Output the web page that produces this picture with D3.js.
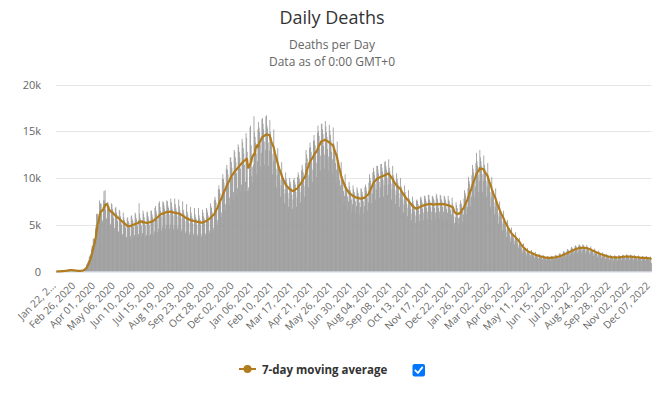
<!DOCTYPE html>
<html>
<head>
<meta charset="utf-8">
<script src="https://cdn.jsdelivr.net/npm/d3@7"></script>
<style>
  body { margin: 0; background: #fff; }
  svg { display: block; font-family: "Open Sans", "Lucida Grande", "DejaVu Sans", sans-serif; }
</style>
</head>
<body>
<div id="chart"></div>
<script>
// Chart texts
var chartTitle = "Daily Deaths";
var subtitleLines = ["Deaths per Day", "Data as of 0:00 GMT+0"];
var legendLabel = "7-day moving average";

// X axis tick labels, one every 35 days starting Jan 22, 2020
var tickStep = 35;
var tickLabels = [
  "Jan 22, 2\u2026", "Feb 26, 2020", "Apr 01, 2020", "May 06, 2020", "Jun 10, 2020",
  "Jul 15, 2020", "Aug 19, 2020", "Sep 23, 2020", "Oct 28, 2020", "Dec 02, 2020",
  "Jan 06, 2021", "Feb 10, 2021", "Mar 17, 2021", "Apr 21, 2021", "May 26, 2021",
  "Jun 30, 2021", "Aug 04, 2021", "Sep 08, 2021", "Oct 13, 2021", "Nov 17, 2021",
  "Dec 22, 2021", "Jan 26, 2022", "Mar 02, 2022", "Apr 06, 2022", "May 11, 2022",
  "Jun 15, 2022", "Jul 20, 2022", "Aug 24, 2022", "Sep 28, 2022", "Nov 02, 2022",
  "Dec 07, 2022"
];

// Y axis ticks
var yTicks = [0, 5000, 10000, 15000, 20000];

// Daily deaths, Jan 22, 2020 onward (one row per week, Wed..Tue)
var deaths = [
  17,8,16,15,24,26,26,
  38,43,46,45,57,64,66,
  72,70,85,87,100,108,97,
  120,254,143,143,142,105,98,
  139,112,119,98,150,71,52,
  64,38,57,64,57,70,81,
  85,98,105,98,120,173,208,
  273,338,440,410,726,785,928,
  1040,1165,1580,1690,1740,1890,2430,
  2720,2780,3510,3510,3260,3510,4620,
  4950,6150,6200,6100,4900,4850,7600,
  7000,7300,7250,6200,5300,5500,7600,
  8600,7600,8700,6600,5700,5600,7400,
  7400,7000,6700,6300,4900,5100,7300,
  7200,6700,6400,5700,4500,4700,6800,
  6900,6300,6000,5400,4200,4300,6600,
  6400,5900,5600,5000,3800,4000,6300,
  5800,5500,5300,4700,3500,3700,5700,
  5800,5400,5200,4700,3500,3800,5900,
  6000,5600,5400,4800,3600,3900,6300,
  6100,5700,5500,4900,3700,4000,7300,
  6200,5700,5500,4900,3800,4100,6500,
  6200,5800,5400,4900,3700,3900,6400,
  6300,5900,5600,5000,3800,4000,6500,
  6500,6100,5800,5300,3900,4300,6800,
  7000,6500,6200,5600,4200,4600,7300,
  7500,6900,6500,5900,4400,4800,7500,
  7400,7100,6700,6100,4600,5000,7600,
  7500,7000,6800,6100,4600,5000,7800,
  7400,6900,6600,6000,4500,4900,7800,
  7200,6800,6500,5900,4500,4800,7700,
  7000,6600,6300,5700,4300,4600,7500,
  6600,6300,6000,5400,4100,4300,7200,
  6400,6100,5800,5200,3900,4200,6900,
  6300,5900,5700,5100,3900,4100,6800,
  6100,5800,5600,5000,3800,4000,6800,
  6000,5700,5500,4900,3700,4000,6600,
  6300,5900,5700,5100,3900,4100,6800,
  6600,6300,6000,5400,4100,4400,7300,
  7000,6800,6400,5800,4400,4700,7600,
  8000,7700,7400,6600,5000,5500,8800,
  9200,8800,8400,7600,5800,6300,9900,
  10400,9900,9500,8500,6500,7200,11000,
  11400,10900,10400,9400,7100,7900,12200,
  12200,11700,11100,10100,7600,8500,13000,
  12800,12200,11700,10500,8000,8900,13600,
  13300,12800,12200,11000,8400,9300,14200,
  13800,13200,12600,11400,8600,9600,14800,
  14300,12800,8600,9000,8600,11000,15400,
  15600,13500,10200,11200,9500,11400,16600,
  14900,14400,13800,12600,10400,11800,15200,
  16000,15400,14900,13600,11200,12700,16300,
  16400,15800,15200,13900,11400,13000,16600,
  16700,15600,15300,13800,11300,12900,16200,
  14900,14400,13800,12600,10400,11800,15200,
  13000,12500,12100,11000,9000,10300,13200,
  11500,11100,10700,9800,8000,9200,11700,
  10400,10000,9700,8800,7300,8300,10600,
  9900,9500,9200,8400,6900,7800,10000,
  9600,9300,8900,8200,6700,7700,9800,
  10000,9600,9300,8500,6900,7900,10100,
  10600,10300,9900,9000,7400,8500,10800,
  11400,11000,10600,9700,8000,9100,11600,
  13000,12500,12100,11000,9000,10300,13200,
  13800,13300,12800,11700,9600,10900,14000,
  14600,14000,13500,12400,10100,11600,14800,
  15600,15000,14500,13200,10800,12400,15800,
  15800,15200,14700,13400,11000,12500,16100,
  15500,14900,14400,13100,10800,12300,15700,
  15100,14600,14000,12800,10500,12000,15400,
  13700,13200,12700,11600,9500,10900,13900,
  11500,11100,10700,9800,8000,9200,11700,
  10200,9800,9500,8600,7100,8100,10400,
  9400,9100,8700,8000,6600,7500,9600,
  9100,8700,8400,7700,6300,7200,9200,
  8800,8500,8200,7500,6200,7000,9000,
  8700,8400,8100,7400,6100,6900,8900,
  8800,8500,8200,7500,6200,7000,9000,
  9300,9000,8600,7900,6500,7400,9500,
  10400,10000,9700,8800,7300,8300,10600,
  11100,10700,10300,9400,7700,8800,11300,
  11300,10900,10500,9600,7900,9000,11500,
  11500,11100,10700,9800,8000,9200,11700,
  11800,11300,10900,10000,8200,9300,12000,
  11100,10700,10300,9400,7700,8800,11300,
  10300,9900,9600,8700,7200,8200,10500,
  9900,9500,9200,8400,6900,7800,10000,
  9100,8700,8400,7700,6300,7200,9200,
  8500,8200,7900,7200,5900,6800,8700,
  7800,7600,7300,6700,5500,6200,8000,
  7500,7200,7000,6400,5200,6000,7600,
  7700,7500,7200,6600,5400,6100,7900,
  8000,7700,7400,6700,5500,6300,8100,
  8100,7800,7500,6800,5600,6400,8200,
  8200,7700,7500,6900,5500,6400,8100,
  8000,7800,7600,6800,5600,6300,8300,
  8100,7800,7400,6800,5700,6400,8200,
  8100,7700,7500,6900,5600,6400,8100,
  8000,7700,7400,6700,5500,6300,8100,
  7700,7500,7200,6600,5400,6100,7900,
  7300,7000,6000,5200,4800,5800,7400,
  7100,6800,5800,5700,5000,5800,7200,
  7600,7300,7100,6500,5300,6100,7800,
  8700,8400,8100,7400,6100,6900,8900,
  10100,9700,9400,8600,7000,8000,10300,
  11400,11000,10600,9700,8000,9100,11600,
  12700,11800,11300,10400,8500,9700,13000,
  12200,11800,11300,10400,8500,9700,12400,
  11400,11000,10600,9700,8000,9100,11600,
  10000,9600,9300,8500,6900,7900,10100,
  8700,8400,8100,7400,6100,6900,8900,
  7400,7100,6900,6300,5100,5900,7500,
  6400,6200,5900,5400,4400,5100,6500,
  5400,5200,5000,4600,3700,4300,5500,
  4600,4400,4300,3900,3200,3600,4700,
  4100,4000,3800,3500,2900,3300,4200,
  3600,3500,3300,3000,2500,2800,3600,
  2900,2800,2700,2500,2000,2300,3000,
  2500,2400,2300,2100,1700,2000,2500,
  2200,2200,2100,1900,1600,1800,2300,
  2000,1900,1900,1700,1400,1600,2100,
  1850,1780,1720,1570,1290,1470,1880,
  1740,1670,1610,1470,1210,1380,1770,
  1620,1570,1510,1380,1130,1290,1650,
  1640,1560,1500,1370,1140,1300,1660,
  1680,1620,1560,1430,1170,1340,1710,
  1790,1730,1660,1520,1250,1420,1820,
  1960,1890,1820,1660,1370,1560,2000,
  2180,2110,2030,1850,1520,1740,2220,
  2410,2320,2240,2040,1680,1910,2450,
  2630,2540,2440,2230,1830,2090,2680,
  2800,2700,2600,2380,1950,2230,2850,
  2860,2750,2650,2420,1990,2270,2910,
  2800,2700,2600,2380,1950,2230,2850,
  2630,2540,2440,2230,1830,2090,2680,
  2410,2320,2240,2040,1680,1910,2450,
  2180,2110,2030,1850,1520,1740,2220,
  2020,1940,1870,1710,1400,1600,2050,
  1850,1780,1720,1570,1290,1470,1880,
  1740,1670,1610,1470,1210,1380,1770,
  1680,1620,1560,1430,1170,1340,1710,
  1690,1610,1570,1420,1160,1330,1720,
  1740,1670,1610,1470,1210,1380,1770,
  1790,1730,1660,1520,1250,1420,1820,
  1800,1720,1670,1510,1240,1430,1810,
  1740,1670,1610,1470,1210,1380,1770,
  1680,1620,1560,1430,1170,1340,1710,
  1620,1570,1510,1380,1130,1290,1650,
  1630,1560,1500,1370,1120,1300,1660,
  1570,1510,1460,1330,1090,1250,1600,
  1200,900
];

(function() {
  var width = 664,
      height = 394;

  var plot = { left: 56, right: 651.5, top: 84.5, bottom: 271.5 };

  var barColor = "#9c9c9c",
      lineColor = "#b07c1d";

  var svg = d3.select("#chart")
    .append("svg")
      .attr("width", width)
      .attr("height", height);

  // 7-day trailing moving average
  var avg = deaths.map(function(d, i) {
    var win = deaths.slice(Math.max(0, i - 6), i + 1);
    return d3.mean(win);
  });

  var x = d3.scaleBand()
    .domain(d3.range(deaths.length))
    .range([plot.left, plot.right])
    .padding(0);

  var y = d3.scaleLinear()
    .domain([0, 20000])
    .range([plot.bottom, plot.top]);

  var bw = x.bandwidth();

  // Title and subtitle
  svg.append("text")
    .attr("x", width / 2)
    .attr("y", 24)
    .attr("text-anchor", "middle")
    .style("font-size", "18px")
    .style("fill", "#333")
    .text(chartTitle);

  svg.selectAll(".subtitle")
    .data(subtitleLines)
    .enter()
    .append("text")
      .attr("class", "subtitle")
      .attr("x", width / 2)
      .attr("y", function(d, i) { return 49 + i * 17; })
      .attr("text-anchor", "middle")
      .style("font-size", "12px")
      .style("fill", "#666")
      .text(function(d) { return d; });

  // Grid lines
  svg.append("g")
    .selectAll("line")
    .data(yTicks.slice(1))
    .enter()
    .append("line")
      .attr("x1", plot.left)
      .attr("x2", plot.right)
      .attr("y1", function(d) { return Math.round(y(d)) + 0.5; })
      .attr("y2", function(d) { return Math.round(y(d)) + 0.5; })
      .attr("stroke", "#e6e6e6")
      .attr("stroke-width", 1);

  // Y labels
  svg.append("g")
    .selectAll("text")
    .data(yTicks)
    .enter()
    .append("text")
      .attr("x", 41)
      .attr("y", function(d) { return y(d) + 4; })
      .attr("text-anchor", "end")
      .style("font-size", "11px")
      .style("fill", "#666")
      .text(function(d) { return d === 0 ? "0" : (d / 1000) + "k"; });

  // Bars
  svg.append("g")
    .selectAll("rect")
    .data(deaths)
    .enter()
    .append("rect")
      .attr("x", function(d, i) { return x(i); })
      .attr("y", function(d) { return y(d); })
      .attr("width", bw + 0.3)
      .attr("height", function(d) { return plot.bottom - y(d); })
      .attr("fill", barColor);

  // X axis line
  svg.append("line")
    .attr("x1", plot.left)
    .attr("x2", plot.right)
    .attr("y1", plot.bottom + 0.5)
    .attr("y2", plot.bottom + 0.5)
    .attr("stroke", "#ccd6eb");

  // Moving average line
  var line = d3.line()
    .x(function(d, i) { return x(i) + bw / 2; })
    .y(function(d) { return y(d); });

  svg.append("path")
    .datum(avg)
    .attr("d", line)
    .attr("fill", "none")
    .attr("stroke", lineColor)
    .attr("stroke-width", 2.2)
    .attr("stroke-linejoin", "round");

  // X labels, rotated
  svg.append("g")
    .selectAll("text")
    .data(tickLabels)
    .enter()
    .append("text")
      .attr("transform", function(d, i) {
        var tx = x(i * tickStep) + bw / 2;
        return "translate(" + tx + "," + (plot.bottom + 15) + ") rotate(-45)";
      })
      .attr("text-anchor", "end")
      .style("font-size", "10.2px")
      .style("fill", "#666")
      .text(function(d) { return d; });

  // Legend
  var legend = svg.append("g").attr("class", "legend");
  legend.append("line")
    .attr("x1", 239).attr("x2", 256)
    .attr("y1", 369).attr("y2", 369)
    .attr("stroke", lineColor)
    .attr("stroke-width", 2);
  legend.append("circle")
    .attr("cx", 247.5).attr("cy", 369).attr("r", 4)
    .attr("fill", lineColor);
  legend.append("text")
    .attr("x", 262)
    .attr("y", 373.5)
    .style("font-size", "11.5px")
    .style("font-weight", "bold")
    .style("fill", "#333")
    .text(legendLabel);

  // Checkbox
  legend.append("rect")
    .attr("x", 412.5).attr("y", 364)
    .attr("width", 12.5).attr("height", 12.5)
    .attr("rx", 2)
    .attr("fill", "#0075ff");
  legend.append("path")
    .attr("d", "M415.3,370.3 L417.9,373 L422.3,367.4")
    .attr("fill", "none")
    .attr("stroke", "#fff")
    .attr("stroke-width", 1.8)
    .attr("stroke-linecap", "round")
    .attr("stroke-linejoin", "round");
})();
</script>
</body>
</html>
